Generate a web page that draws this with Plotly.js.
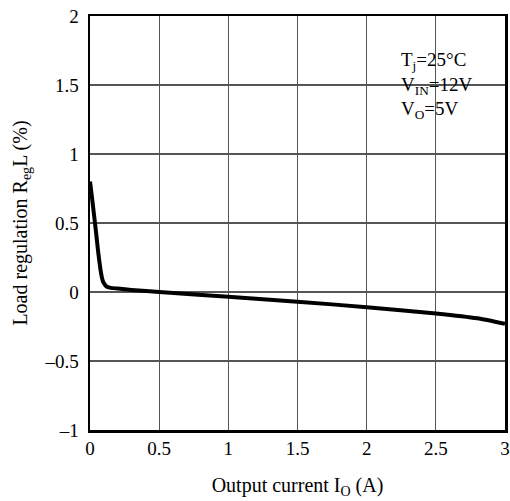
<!DOCTYPE html>
<html><head><meta charset="utf-8">
<script src="https://cdn.plot.ly/plotly-3.0.1.min.js"></script>
<style>html,body{margin:0;padding:0;background:#fff}</style>
</head><body>
<div id="chart" style="width:510px;height:501px"></div>
<script>
const currentA = [0, 0.015, 0.03, 0.045, 0.058, 0.068, 0.077, 0.085, 0.093, 0.1, 0.11, 0.12, 0.135, 0.15, 0.2, 0.3, 0.5, 1.0, 1.5, 2.0, 2.5, 2.8, 3.0];
const regulationPct = [0.8, 0.68, 0.55, 0.42, 0.30, 0.22, 0.155, 0.11, 0.08, 0.065, 0.05, 0.04, 0.034, 0.03, 0.025, 0.015, 0.0, -0.035, -0.07, -0.11, -0.155, -0.19, -0.23];
const xTicks = [0, 0.5, 1, 1.5, 2, 2.5, 3];
const xTickText = ['0', '0.5', '1', '1.5', '2', '2.5', '3'];
const yTicks = [-1, -0.5, 0, 0.5, 1, 1.5, 2];
const yTickText = ['\u20131', '\u20130.5', '0', '0.5', '1', '1.5', '2'];
const conditions = 'T<sub>j</sub>=25°C<br>V<sub>IN</sub>=12V<br>V<sub>O</sub>=5V';

const font = {family: '"Liberation Serif", serif', color: '#000', size: 18};
Plotly.newPlot('chart', [{
  x: currentA, y: regulationPct, mode: 'lines', type: 'scatter',
  line: {color: '#000', width: 4, shape: 'spline', smoothing: 0.6}, hoverinfo: 'skip'
}], {
  width: 510, height: 501,
  margin: {l: 90, r: 5, t: 16, b: 71},
  paper_bgcolor: '#fff', plot_bgcolor: '#fff',
  font: font, showlegend: false,
  xaxis: {range: [0, 3], tickvals: xTicks, ticktext: xTickText, showgrid: true, gridcolor: '#555', gridwidth: 1.2,
    zeroline: false, showline: true, linecolor: '#000', linewidth: 2.5, mirror: true, ticks: '', ticklabelstandoff: 0,
    tickfont: {size: 19},
    title: {text: 'Output current I<sub>O</sub> (A)', font: {size: 20}, standoff: 20}},
  yaxis: {range: [-1, 2], tickvals: yTicks, ticktext: yTickText, showgrid: true, gridcolor: '#555', gridwidth: 1.2,
    zeroline: false, showline: true, linecolor: '#000', linewidth: 2.5, mirror: true, ticks: '', ticklabelstandoff: 5,
    tickfont: {size: 19},
    title: {text: 'Load regulation R<sub>eg</sub>L (%)', font: {size: 20}, standoff: 12}},
  annotations: [{xref: 'paper', yref: 'paper', x: 0.745, y: 0.925, xanchor: 'left', yanchor: 'top', align: 'left',
    text: conditions, showarrow: false, font: {size: 19}}]
}, {staticPlot: true, displayModeBar: false});
</script>
</body></html>
